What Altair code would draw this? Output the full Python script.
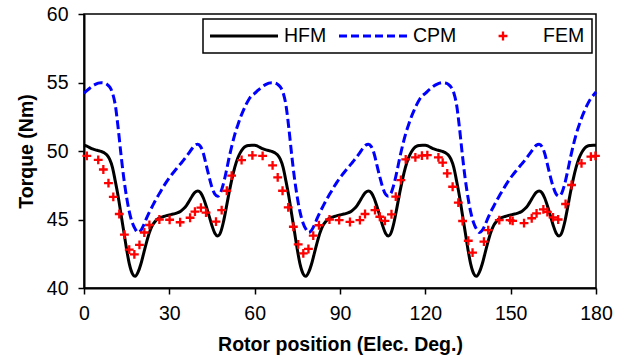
import altair as alt
import pandas as pd

# ---------------- data ----------------
x_deg = list(range(0, 181))

hfm = [
    50.42, 50.36, 50.25, 50.15, 50.08, 50.03, 49.97, 49.88, 49.72, 49.40,
    48.80, 47.80, 46.70, 45.40, 44.10, 42.80, 41.70, 41.05, 40.85, 41.15,
    41.75, 42.55, 43.35, 44.05, 44.55, 44.85, 45.05, 45.15, 45.22, 45.28,
    45.33, 45.38, 45.43, 45.50, 45.60, 45.78, 46.02, 46.35, 46.70, 46.98,
    47.08, 46.95, 46.55, 45.95, 45.25, 44.55, 44.00, 43.80, 44.05, 44.80,
    45.85, 46.95, 47.95, 48.80, 49.45, 49.90, 50.20, 50.35, 50.40, 50.42,
    50.42, 50.36, 50.25, 50.15, 50.08, 50.03, 49.97, 49.88, 49.72, 49.40,
    48.80, 47.80, 46.70, 45.40, 44.10, 42.80, 41.70, 41.05, 40.85, 41.15,
    41.75, 42.55, 43.35, 44.05, 44.55, 44.85, 45.05, 45.15, 45.22, 45.28,
    45.33, 45.38, 45.43, 45.50, 45.60, 45.78, 46.02, 46.35, 46.70, 46.98,
    47.08, 46.95, 46.55, 45.95, 45.25, 44.55, 44.00, 43.80, 44.05, 44.80,
    45.85, 46.95, 47.95, 48.80, 49.45, 49.90, 50.20, 50.35, 50.40, 50.42,
    50.42, 50.36, 50.25, 50.15, 50.08, 50.03, 49.97, 49.88, 49.72, 49.40,
    48.80, 47.80, 46.70, 45.40, 44.10, 42.80, 41.70, 41.05, 40.85, 41.15,
    41.75, 42.55, 43.35, 44.05, 44.55, 44.85, 45.05, 45.15, 45.22, 45.28,
    45.33, 45.38, 45.43, 45.50, 45.60, 45.78, 46.02, 46.35, 46.70, 46.98,
    47.08, 46.95, 46.55, 45.95, 45.25, 44.55, 44.00, 43.80, 44.05, 44.80,
    45.85, 46.95, 47.95, 48.80, 49.45, 49.90, 50.20, 50.35, 50.40, 50.42,
    50.42,
]

cpm = [
    54.21, 54.40, 54.58, 54.74, 54.86, 54.95, 54.99, 54.97, 54.88, 54.68,
    54.25, 53.35, 51.70, 49.75, 48.00, 46.60, 45.50, 44.75, 44.30, 44.05,
    44.20, 44.60, 45.10, 45.55, 45.95, 46.35, 46.72, 47.07, 47.42, 47.75,
    48.05, 48.32, 48.58, 48.83, 49.08, 49.33, 49.60, 49.88, 50.18, 50.42,
    50.50, 50.32, 49.80, 48.95, 48.10, 47.35, 46.85, 46.70, 46.95, 47.60,
    48.50, 49.50, 50.40, 51.20, 51.85, 52.45, 52.95, 53.40, 53.78, 54.05,
    54.21, 54.40, 54.58, 54.74, 54.86, 54.95, 54.99, 54.97, 54.88, 54.68,
    54.25, 53.35, 51.70, 49.75, 48.00, 46.60, 45.50, 44.75, 44.30, 44.05,
    44.20, 44.60, 45.10, 45.55, 45.95, 46.35, 46.72, 47.07, 47.42, 47.75,
    48.05, 48.32, 48.58, 48.83, 49.08, 49.33, 49.60, 49.88, 50.18, 50.42,
    50.50, 50.32, 49.80, 48.95, 48.10, 47.35, 46.85, 46.70, 46.95, 47.60,
    48.50, 49.50, 50.40, 51.20, 51.85, 52.45, 52.95, 53.40, 53.78, 54.05,
    54.21, 54.40, 54.58, 54.74, 54.86, 54.95, 54.99, 54.97, 54.88, 54.68,
    54.25, 53.35, 51.70, 49.75, 48.00, 46.60, 45.50, 44.75, 44.30, 44.05,
    44.20, 44.60, 45.10, 45.55, 45.95, 46.35, 46.72, 47.07, 47.42, 47.75,
    48.05, 48.32, 48.58, 48.83, 49.08, 49.33, 49.60, 49.88, 50.18, 50.42,
    50.50, 50.32, 49.80, 48.95, 48.10, 47.35, 46.85, 46.70, 46.95, 47.60,
    48.50, 49.50, 50.40, 51.20, 51.85, 52.45, 52.95, 53.40, 53.78, 54.05,
    54.30,
]

fem_x = [
    1.0, 5.0, 6.8, 8.6, 10.3, 12.4, 14.2, 15.9, 17.7, 19.5,
    21.2, 23.0, 26.5, 30.1, 33.8, 37.3, 39.0, 41.1, 42.9, 46.4,
    48.4, 50.2, 51.9, 55.4, 59.2,
    62.8, 66.3, 68.1, 69.8, 71.8, 73.6, 75.3, 77.1, 78.9, 80.6,
    82.6, 86.3, 89.7, 93.5, 97.0, 98.8, 102.3, 104.0, 105.8, 108.1,
    109.6, 111.4, 113.1, 116.5, 118.8,
    120.7, 124.6, 126.1, 127.7, 129.6, 131.6, 133.1, 135.1, 136.6, 140.6,
    142.1, 146.0, 149.8, 150.7, 154.7, 157.4, 159.1, 161.5, 162.9, 164.9,
    166.7, 169.3, 171.4, 174.9, 178.2, 179.8,
]
fem_y = [
    49.65, 49.35, 48.65, 47.65, 46.65, 45.40, 43.90, 42.80, 42.45, 43.15,
    44.05, 44.60, 45.00, 44.98, 44.80, 45.13, 45.57, 45.86, 45.50, 44.84,
    45.69, 47.10, 48.20, 49.34, 49.68,
    49.64, 48.95, 48.08, 47.10, 45.89, 44.47, 43.19, 42.53, 42.85, 43.82,
    44.58, 45.00, 44.96, 44.82, 44.96, 45.40, 45.69, 45.20, 44.90, 45.38,
    46.67, 47.88, 49.39, 49.54, 49.66,
    49.70, 49.54, 49.15, 48.37, 47.39, 46.23, 44.89, 43.45, 42.58, 43.38,
    44.23, 44.96, 44.96, 44.90, 44.74, 45.09, 45.45, 45.74, 45.55, 45.15,
    45.00, 46.13, 47.52, 49.10, 49.59, 49.64,
]

series_names = ["HFM", "CPM", "FEM"]
series_colors = ["#000000", "#0000FF", "#FF0000"]
x_ticks = [0, 30, 60, 90, 120, 150, 180]
y_ticks = [40, 45, 50, 55, 60]

# ---------------- symbols (normalised paths, scaled by sqrt(size)/2) -------
H = 0.044
solid_path = f"M-1,-{H}H1V{H}H-1Z"
dash_segments = [(-1.0, -0.765), (-0.647, -0.412), (-0.294, -0.059),
                 (0.059, 0.294), (0.412, 0.647), (0.765, 1.0)]
dash_path = "".join(f"M{a},-{H}H{b}V{H}H{a}Z" for a, b in dash_segments)
A, T = 0.13, 0.034
plus_path = (f"M-{A},-{T}H-{T}V-{A}H{T}V-{T}H{A}V{T}H{T}V{A}H-{T}V{T}H-{A}Z")
SYMBOL_SIZE = 4624

FONT = "Liberation Sans"

line_df = pd.DataFrame({"x": x_deg, "HFM": hfm, "CPM": cpm})
fem_df = pd.DataFrame({"x": fem_x, "y": fem_y, "series": ["FEM"] * len(fem_x)})

xs = alt.Scale(domain=[0, 180], nice=False, zero=False)
ys = alt.Scale(domain=[40, 60], nice=False, zero=False)
x_axis = alt.Axis(values=x_ticks, title="Rotor position (Elec. Deg.)", grid=False,
                  labelFlush=False, labelPadding=10, titlePadding=13)
y_axis = alt.Axis(values=y_ticks, title="Torque (Nm)", grid=False,
                  labelFlush=False, labelPadding=10, titlePadding=10)

legend = alt.Legend(
    title=None, orient="none", legendX=119, legendY=5, direction="horizontal",
    columns=3, symbolSize=SYMBOL_SIZE, symbolStrokeWidth=0, symbolOpacity=1,
    labelFont=FONT, labelFontSize=19.5, labelColor="black", labelOffset=6,
    columnPadding=12, padding=7, strokeColor="black", clipHeight=20,
)

hfm_line = alt.Chart(line_df).mark_line(
    color="#000000", strokeWidth=3, interpolate="monotone"
).encode(
    x=alt.X("x:Q", scale=xs, axis=x_axis),
    y=alt.Y("HFM:Q", scale=ys, axis=y_axis),
)

cpm_line = alt.Chart(line_df).mark_line(
    color="#0000FF", strokeWidth=3, strokeDash=[9, 4], interpolate="monotone"
).encode(
    x=alt.X("x:Q", scale=xs, axis=x_axis),
    y=alt.Y("CPM:Q", scale=ys, axis=y_axis),
)

fem_pts = alt.Chart(fem_df).mark_point(
    filled=True, size=SYMBOL_SIZE, strokeWidth=0, opacity=1
).encode(
    x=alt.X("x:Q", scale=xs, axis=x_axis),
    y=alt.Y("y:Q", scale=ys, axis=y_axis),
    color=alt.Color("series:N", scale=alt.Scale(domain=series_names, range=series_colors),
                    legend=legend),
    shape=alt.Shape("series:N",
                    scale=alt.Scale(domain=series_names,
                                    range=[solid_path, dash_path, plus_path]),
                    legend=legend),
)

chart = alt.layer(hfm_line, cpm_line, fem_pts).properties(
    width=512, height=274,
    autosize=alt.AutoSizeParams(type="none"),
    padding={"left": 84, "top": 14, "right": 28, "bottom": 74},
    background="white",
).configure_view(
    stroke="black", strokeWidth=1.5
).configure_axis(
    domainColor="black", domainWidth=2, tickColor="black", tickWidth=1.5,
    tickSize=6, labelFont=FONT, labelFontSize=19.5, labelColor="black",
    titleFont=FONT, titleFontSize=19.5, titleFontWeight="bold", titleColor="black",
).configure_legend(
    strokeWidth=1.5
)

chart.save("out.html", embed_options={"renderer": "svg", "actions": False})
